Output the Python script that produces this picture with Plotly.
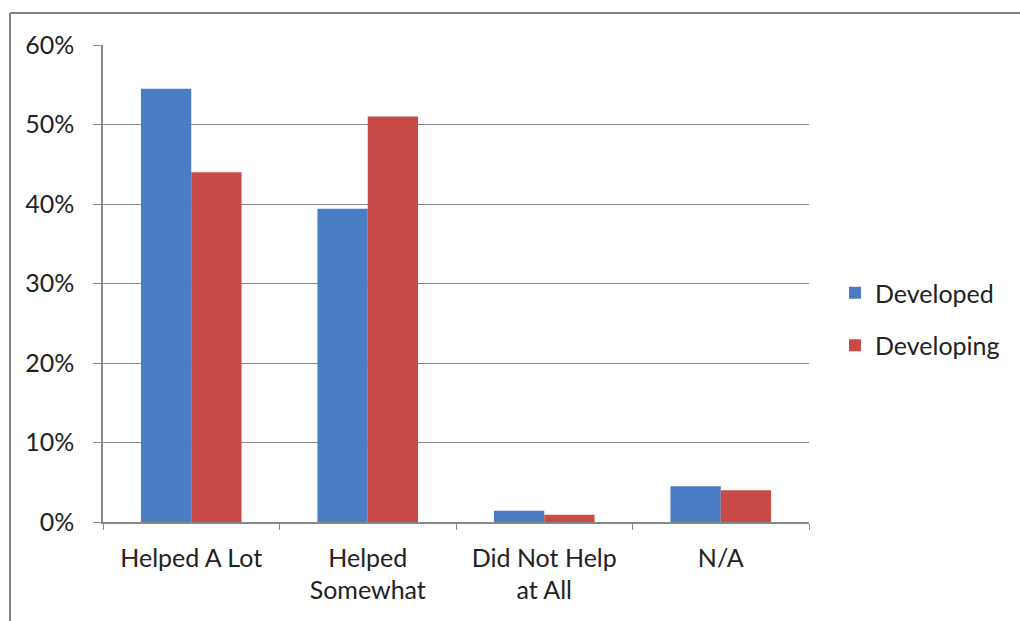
import plotly.graph_objects as go

categories = ["Helped A Lot", "Helped<br>Somewhat", "Did Not Help<br>at All", "N/A"]
developed = [0.545, 0.394, 0.014, 0.045]
developing = [0.440, 0.510, 0.009, 0.040]
series_names = ["Developed", "Developing"]
colors = ["#4A7DC4", "#C84B48"]

L, R, T, B = 103, 211, 45, 99
W, H = 1020, 621
pw, ph = W - L - R, H - T - B

def px(x):
    return (x - L) / pw

def py(y):
    return (H - B - y) / ph

fig = go.Figure()
for name, vals, col in zip(series_names, [developed, developing], colors):
    fig.add_trace(go.Bar(x=categories, y=vals, name=name, marker=dict(color=col, line=dict(width=0)),
                         legendgroup=name))

font = "Lato, 'Open Sans', sans-serif"
fig.update_layout(
    width=W, height=H,
    margin=dict(l=L, r=R, t=T, b=B),
    paper_bgcolor="white", plot_bgcolor="white",
    barmode="group", bargap=0.43, bargroupgap=0,
    font=dict(family=font, size=25, color="#222222"),
    showlegend=True,
    legend=dict(x=px(835), y=py(270), xanchor="left", yanchor="top",
                font=dict(size=25, color="#222222"), traceorder="grouped",
                tracegroupgap=17, itemwidth=30, bgcolor="rgba(0,0,0,0)"),
    xaxis=dict(showline=True, linecolor="#888888", linewidth=1.5, ticks="outside",
               tickson="boundaries", ticklen=6, tickcolor="#888888", showgrid=False,
               tickfont=dict(size=25), ticklabelstandoff=13),
    yaxis=dict(range=[0, 0.6], dtick=0.1, tickformat=".0%", showline=True, linecolor="#888888",
               linewidth=1.5, ticks="outside", ticklen=8, tickcolor="#888888",
               showgrid=True, gridcolor="#888888", gridwidth=1, zeroline=False,
               tickfont=dict(size=25), ticklabelstandoff=14),
    shapes=[
        dict(type="line", xref="paper", yref="paper", x0=px(10), x1=px(1025), y0=py(13), y1=py(13),
             line=dict(color="#808080", width=2)),
        dict(type="line", xref="paper", yref="paper", x0=px(10), x1=px(10), y0=py(13), y1=py(630),
             line=dict(color="#808080", width=2)),
    ],
)

fig.write_html("out.html")
